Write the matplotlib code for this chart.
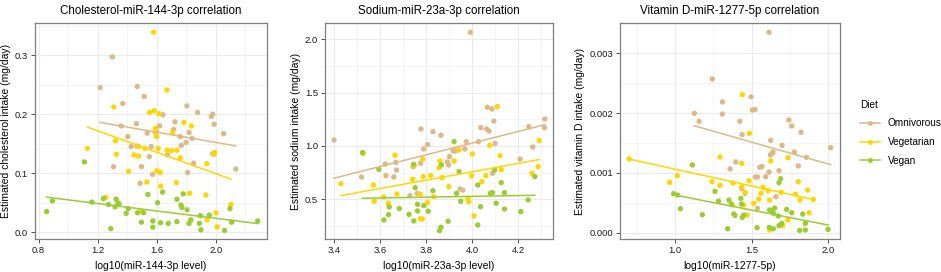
import numpy as np
import matplotlib
matplotlib.use('Agg')
import matplotlib.pyplot as plt
from matplotlib.lines import Line2D

plt.rcParams['font.family'] = ['Liberation Sans', 'DejaVu Sans']

diets = ['Omnivorous', 'Vegetarian', 'Vegan']
colors = {'Omnivorous': '#DEB887', 'Vegetarian': '#FFD700', 'Vegan': '#9ACD32'}

# Panel 1 - cholesterol vs miR-144-3p
chol_omni_x = [1.30, 1.217, 1.468, 1.37, 1.515, 1.805, 1.878, 1.98, 1.97, 1.99, 1.642, 1.62, 1.724, 1.463,
               1.36, 1.715, 1.404, 1.536, 1.60, 1.76, 1.82, 1.84, 1.427, 1.466, 1.767, 1.563, 1.80, 2.054,
               1.55, 1.674, 1.307, 1.497, 1.85, 1.98, 1.81, 1.572, 1.488, 2.136]
chol_omni_y = [0.297, 0.245, 0.247, 0.218, 0.230, 0.214, 0.203, 0.200, 0.196, 0.183, 0.199, 0.180, 0.187, 0.184,
               0.180, 0.174, 0.162, 0.168, 0.170, 0.162, 0.169, 0.159, 0.145, 0.146, 0.147, 0.145, 0.152, 0.167,
               0.128, 0.131, 0.111, 0.111, 0.117, 0.133, 0.101, 0.098, 0.083, 0.107]
chol_veg_x = [1.579, 1.669, 1.309, 1.583, 1.552, 1.615, 1.785, 1.835, 1.592, 1.59, 1.708, 1.60, 1.13, 1.32,
              1.52, 1.61, 1.477, 1.67, 1.70, 1.737, 1.327, 1.447, 1.477, 1.76, 1.993, 1.99, 1.409, 1.60,
              1.624, 1.94, 1.533, 1.628, 1.733, 1.823, 1.934, 1.255, 2.104, 1.495, 2.002, 1.943, 2.01]
chol_veg_y = [0.339, 0.241, 0.212, 0.206, 0.203, 0.201, 0.186, 0.180, 0.176, 0.169, 0.169, 0.162, 0.142, 0.155,
              0.142, 0.142, 0.145, 0.139, 0.138, 0.139, 0.132, 0.131, 0.129, 0.126, 0.135, 0.132, 0.103, 0.104,
              0.101, 0.116, 0.085, 0.078, 0.084, 0.066, 0.063, 0.059, 0.047, 0.036, 0.033, 0.021, 0.009]
chol_vegan_x = [1.11, 0.854, 0.893, 1.16, 1.239, 1.273, 1.325, 1.337, 1.318, 1.345, 1.407, 1.393, 1.47, 1.51,
                1.54, 1.606, 1.64, 1.737, 1.765, 1.771, 1.78, 1.806, 1.497, 1.574, 1.574, 1.626, 1.678, 1.737,
                1.289, 1.819, 1.832, 1.896, 1.957, 1.889, 1.90, 2.06, 2.097, 2.108, 2.285]
chol_vegan_y = [0.119, 0.035, 0.053, 0.051, 0.057, 0.047, 0.056, 0.050, 0.043, 0.048, 0.040, 0.032, 0.033, 0.033,
                0.064, 0.050, 0.068, 0.056, 0.046, 0.042, 0.065, 0.038, 0.017, 0.019, 0.0085, 0.016, 0.015, 0.018,
                0.006, 0.015, 0.021, 0.028, 0.029, 0.015, 0.004, 0.003, 0.040, 0.017, 0.019]

# Panel 2 - sodium vs miR-23a-3p
sod_omni_x = [3.40, 3.993, 3.52, 3.623, 3.626, 3.669, 3.672, 3.66, 3.744, 3.776, 3.778, 3.83, 3.865, 3.807,
              3.79, 3.892, 3.898, 3.902, 3.918, 3.928, 3.969, 3.975, 4.028, 4.038, 4.063, 4.074, 4.067, 4.087,
              4.095, 4.10, 4.089, 4.209, 4.247, 4.264, 4.316, 4.315, 3.73, 3.762, 3.948, 3.96]
sod_omni_y = [1.056, 2.066, 0.709, 0.831, 0.722, 0.847, 0.775, 0.709, 0.806, 0.838, 1.159, 1.134, 1.10, 1.013,
              0.972, 0.85, 0.822, 0.90, 0.953, 0.953, 0.972, 1.04, 1.04, 1.172, 1.159, 1.14, 1.363, 1.347,
              1.234, 1.025, 0.744, 0.878, 1.181, 0.991, 1.253, 1.172, 0.534, 0.556, 0.597, 0.587]
sod_veg_x = [4.11, 4.077, 4.002, 3.527, 3.665, 3.749, 3.786, 3.788, 3.82, 3.857, 3.86, 3.87, 3.922, 3.944,
             3.998, 4.043, 4.06, 4.122, 4.127, 4.261, 4.287, 4.292, 3.43, 3.571, 3.575, 3.616, 3.636, 3.674,
             3.742, 3.776, 3.784, 3.775, 3.834, 3.807, 3.899, 3.983, 3.986, 4.009]
sod_veg_y = [1.369, 1.006, 0.925, 0.931, 0.913, 0.819, 0.878, 0.713, 0.722, 0.797, 0.859, 0.703, 0.859, 0.963,
             0.719, 0.666, 0.722, 0.909, 0.778, 0.744, 0.806, 1.05, 0.647, 0.634, 0.481, 0.522, 0.463, 0.55,
             0.688, 0.547, 0.316, 0.318, 0.525, 0.469, 0.619, 0.503, 0.478, 0.344]
sod_vegan_x = [3.524, 3.595, 3.746, 3.922, 3.867, 3.944, 4.098, 4.127, 4.025, 3.753, 3.83, 3.933, 4.08, 4.089,
               4.141, 3.64, 3.684, 3.617, 3.637, 3.726, 3.747, 3.763, 3.763, 3.79, 3.81, 3.865, 3.859, 3.896,
               3.951, 4.037, 4.025, 4.105, 4.141, 4.212, 4.244, 4.273]
sod_vegan_y = [0.938, 0.781, 0.828, 1.041, 0.822, 0.759, 0.775, 0.656, 0.634, 0.609, 0.581, 0.556, 0.556, 0.563,
               0.563, 0.428, 0.413, 0.306, 0.356, 0.359, 0.297, 0.453, 0.391, 0.441, 0.388, 0.238, 0.206, 0.294,
               0.481, 0.431, 0.259, 0.463, 0.409, 0.384, 0.494, 0.713]

# Panel 3 - vitamin D vs miR-1277-5p (values in 1e-3 mg/day)
vitd_omni_x = [1.613, 1.243, 1.309, 1.496, 1.504, 1.522, 1.126, 1.309, 1.157, 1.422, 1.743, 1.761, 1.822, 1.437,
               1.624, 1.698, 1.633, 1.622, 1.639, 1.778, 1.857, 2.015, 1.396, 1.359, 1.552, 1.567, 1.804, 1.678,
               1.524, 1.537, 1.591, 1.613, 1.657, 1.537, 1.435, 1.457]
vitd_omni_y = [3.35, 2.57, 2.185, 2.27, 2.05, 2.06, 1.995, 1.984, 1.862, 1.862, 1.884, 1.784, 1.678, 1.639,
               1.544, 1.46, 1.327, 1.30, 1.349, 1.349, 1.26, 1.421, 1.182, 1.065, 1.093, 1.104, 1.115, 1.037,
               0.931, 0.931, 0.936, 1.014, 0.602, 0.407, 0.736, 0.658]
vitd_veg_x = [1.439, 1.485, 1.293, 1.435, 1.624, 1.737, 0.70, 1.015, 0.965, 1.241, 1.293, 1.378, 1.483, 1.574,
              1.607, 1.435, 1.457, 1.561, 1.546, 1.513, 1.448, 1.374, 1.617, 1.693, 1.804, 1.865, 1.787, 1.815,
              1.902, 1.874, 1.47, 1.617, 1.735, 1.702]
vitd_veg_y = [2.308, 1.661, 1.265, 1.159, 1.198, 1.254, 1.237, 0.953, 0.842, 0.853, 0.792, 0.831, 0.870, 0.758,
              0.702, 0.769, 0.674, 0.658, 0.563, 0.49, 0.463, 0.463, 0.546, 0.674, 0.853, 0.713, 0.641, 0.546,
              0.557, 0.334, 0.295, 0.045, 0.212, 0.117]
vitd_vegan_x = [1.113, 0.991, 1.017, 1.035, 1.178, 1.261, 1.283, 1.352, 1.367, 1.43, 1.433, 1.383, 1.391, 1.439,
                1.448, 1.343, 1.535, 1.617, 1.630, 1.65, 1.643, 1.674, 1.689, 1.678, 1.728, 1.761, 1.833, 1.85,
                1.678, 1.696, 1.615, 1.641, 1.813, 1.85, 1.998]
vitd_vegan_y = [1.132, 0.652, 0.63, 0.401, 0.301, 0.691, 0.53, 0.546, 0.479, 0.574, 0.479, 0.312, 0.29, 0.256,
                0.295, 0.067, 0.084, 0.379, 0.362, 0.412, 0.323, 0.279, 0.903, 0.836, 0.39, 0.334, 0.312, 0.156,
                0.117, 0.156, 0.089, 0.067, 0.039, 0.045, 0.056]

panels = [
    dict(title='Cholesterol-miR-144-3p correlation', xlabel='log10(miR-144-3p level)',
         ylabel='Estimated cholesterol intake (mg/day)',
         data={'Omnivorous': (chol_omni_x, chol_omni_y), 'Vegetarian': (chol_veg_x, chol_veg_y),
               'Vegan': (chol_vegan_x, chol_vegan_y)},
         xlim=(0.775, 2.348), ylim=(-0.012, 0.355), xticks=[0.8, 1.2, 1.6, 2.0], yticks=[0.0, 0.1, 0.2, 0.3],
         xfmt='{:.1f}', yfmt='{:.1f}', scale=1),
    dict(title='Sodium-miR-23a-3p correlation', xlabel='log10(miR-23a-3p level)',
         ylabel='Estimated sodium intake (mg/day)',
         data={'Omnivorous': (sod_omni_x, sod_omni_y), 'Vegetarian': (sod_veg_x, sod_veg_y),
               'Vegan': (sod_vegan_x, sod_vegan_y)},
         xlim=(3.361, 4.352), ylim=(0.125, 2.156), xticks=[3.4, 3.6, 3.8, 4.0, 4.2], yticks=[0.5, 1.0, 1.5, 2.0],
         xfmt='{:.1f}', yfmt='{:.1f}', scale=1),
    dict(title='Vitamin D-miR-1277-5p correlation', xlabel='log10(miR-1277-5p)',
         ylabel='Estimated vitamin D intake (mg/day)',
         data={'Omnivorous': (vitd_omni_x, vitd_omni_y), 'Vegetarian': (vitd_veg_x, vitd_veg_y),
               'Vegan': (vitd_vegan_x, vitd_vegan_y)},
         xlim=(0.641, 2.076), ylim=(-0.00011, 0.00351), xticks=[1.0, 1.5, 2.0], yticks=[0.0, 0.001, 0.002, 0.003],
         xfmt='{:.1f}', yfmt='{:.3f}', scale=1e-3),
]

W, H = 941, 272
fig = plt.figure(figsize=(W / 100, H / 100), dpi=100)
boxes = [(35, 267), (325, 553), (620, 840)]
top, bottom = 22.7, 239.3


def minor_ticks(t):
    step = t[1] - t[0]
    mids = [(a + b) / 2 for a, b in zip(t[:-1], t[1:])]
    return [t[0] - step / 2] + mids + [t[-1] + step / 2]


for p, (x0, x1) in zip(panels, boxes):
    ax = fig.add_axes([x0 / W, 1 - bottom / H, (x1 - x0) / W, (bottom - top) / H])
    for d in diets:
        xs = np.array(p['data'][d][0])
        ys = np.array(p['data'][d][1]) * p['scale']
        ax.scatter(xs, ys, s=15, color=colors[d], edgecolors='none', zorder=3)
    # linear fit per diet, drawn over the data range
    for d in diets:
        xs = np.array(p['data'][d][0])
        ys = np.array(p['data'][d][1]) * p['scale']
        k, b = np.polyfit(xs, ys, 1)
        xx = np.array([xs.min(), xs.max()])
        ax.plot(xx, k * xx + b, color=colors[d], lw=1.1, zorder=4)
    ax.set_xticks(p['xticks'])
    ax.set_yticks(p['yticks'])
    ax.set_xticklabels([p['xfmt'].format(v) for v in p['xticks']])
    ax.set_yticklabels([p['yfmt'].format(v) for v in p['yticks']])
    ax.set_xticks(minor_ticks(p['xticks']), minor=True)
    ax.set_yticks(minor_ticks(p['yticks']), minor=True)
    ax.set_xlim(*p['xlim'])
    ax.set_ylim(*p['ylim'])
    ax.grid(which='major', color='#EBEBEB', lw=0.8, zorder=0)
    ax.grid(which='minor', color='#F2F2F2', lw=0.5, zorder=0)
    ax.tick_params(which='minor', length=0)
    ax.tick_params(which='major', length=3, width=0.6, color='#333333', labelsize=6.8, pad=2,
                   labelcolor='#1a1a1a')
    ax.set_axisbelow(True)
    for sp in ax.spines.values():
        sp.set_color('#7f7f7f')
        sp.set_linewidth(0.9)
    ax.set_title(p['title'], fontsize=8.4, pad=6)
    ax.set_xlabel(p['xlabel'], fontsize=7.5, labelpad=4)
    ax.set_ylabel(p['ylabel'], fontsize=7.5, labelpad=3)

handles = [Line2D([0], [0], color=colors[d], lw=1.1, marker='o', markersize=3.5, markeredgewidth=0)
           for d in diets]
leg = fig.legend(handles, diets, title='Diet', loc='upper left', bbox_to_anchor=(855 / W, 1 - 95 / H),
                 frameon=False, fontsize=7.2, title_fontsize=7.2, handlelength=2.0, labelspacing=0.85,
                 handletextpad=0.8, borderpad=0)
leg._legend_box.align = 'left'

fig.savefig('out.png', dpi=100)
